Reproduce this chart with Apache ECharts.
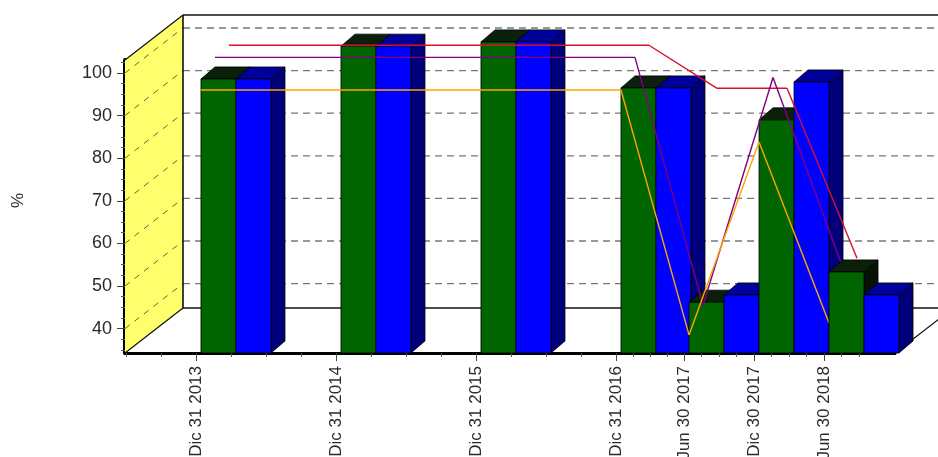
<!DOCTYPE html>
<html>
<head>
<meta charset="utf-8">
<style>
  html, body { margin: 0; padding: 0; background: #ffffff; overflow: hidden; }
  #main { width: 938px; height: 457px; }
</style>
<script src="https://cdn.jsdelivr.net/npm/echarts@6/dist/echarts.min.js"></script>
</head>
<body>
<div id="main"></div>
<script>
// 日期轴：以 Dic 31 2013 为 0，单位是年
var dateLabels = ['Dic 31 2013', 'Dic 31 2014', 'Dic 31 2015', 'Dic 31 2016', 'Jun 30 2017', 'Dic 30 2017', 'Jun 30 2018']
var datePositions = [0, 1, 2, 3, 3.486, 3.986, 4.486]
var xMinorTicks = [-0.5, -0.25, 0.25, 0.5, 0.75, 1.25, 1.5, 1.75, 2.25, 2.5, 2.75,
  3.124, 3.243, 3.365, 3.61, 3.736, 3.861, 4.111, 4.236, 4.361, 4.611, 4.736]

var yTicks = [40, 50, 60, 70, 80, 90, 100]
var yMinorTicks = [35, 37.5, 42.5, 45, 47.5, 52.5, 55, 57.5, 62.5, 65, 67.5, 72.5, 75, 77.5, 82.5, 85, 87.5, 92.5, 95, 97.5, 102.5]

var greenValues = [98.6, 106.3, 107.3, 96.5, 46.2, 89, 53.3]
var blueValues = [98.6, 106.3, 107.3, 96.5, 47.9, 97.9, 47.9]
var redValues = [100.5, 100.5, 100.5, 100.5, 90.4, 90.4, 50.5]
var purpleValues = [100.2, 100.2, 100.2, 100.2, 42, 95.5, 50.7]
var orangeValues = [95.1, 95.1, 95.1, 95.1, 37.6, 82.9, 40.4]

var Y_MIN = 34.27
var Y_MAX = 103.05
var X_MIN = -0.507
var X_MAX = 4.993
// 3D 墙的纵深
var WALL_DX = 58
var WALL_DY = -45
// 柱子的纵深、宽度、相对刻度的偏移
var BAR_DX = 14
var BAR_DY = -12
var BAR_W = 35
var BAR_SHIFT = 40

function poly(points, fill) {
  return { type: 'polygon', shape: { points: points }, style: { fill: fill, stroke: '#000000', lineWidth: 0.8 } }
}

function seg(x1, y1, x2, y2, color, width, dash) {
  return {
    type: 'line',
    shape: { x1: x1, y1: y1, x2: x2, y2: y2 },
    style: { stroke: color, lineWidth: width, lineDash: dash || null, fill: null }
  }
}

// 墙和地板
function renderWalls(params, api) {
  var lb = api.coord([X_MIN, Y_MIN])
  var lt = api.coord([X_MIN, Y_MAX])
  var rb = api.coord([X_MAX, Y_MIN])
  var rt = api.coord([X_MAX, Y_MAX])
  var children = [
    { type: 'polygon', shape: { points: [lb, lt, [lt[0] + WALL_DX, lt[1] + WALL_DY], [lb[0] + WALL_DX, lb[1] + WALL_DY]] }, style: { fill: '#ffff6e' } }
  ]
  yTicks.forEach(function(v) {
    var p = api.coord([X_MIN, v])
    var r = api.coord([X_MAX, v])
    children.push(seg(p[0] + WALL_DX, p[1] + WALL_DY, r[0] + WALL_DX, r[1] + WALL_DY, '#777777', 1.3, [7, 5]))
    children.push(seg(p[0], p[1], p[0] + WALL_DX, p[1] + WALL_DY, '#66663a', 1, [6, 6]))
  })
  children.push(seg(lb[0] + WALL_DX, lb[1] + WALL_DY, lt[0] + WALL_DX, lt[1] + WALL_DY, '#111111', 1.6))
  children.push(seg(lt[0] + WALL_DX, lt[1] + WALL_DY, rt[0] + WALL_DX, rt[1] + WALL_DY, '#111111', 1.6))
  children.push(seg(lb[0] + WALL_DX, lb[1] + WALL_DY, rb[0] + WALL_DX, rb[1] + WALL_DY, '#111111', 1.6))
  children.push(seg(lb[0], lb[1], lb[0] + WALL_DX, lb[1] + WALL_DY, '#111111', 1.2))
  children.push(seg(lt[0], lt[1], lt[0] + WALL_DX, lt[1] + WALL_DY, '#111111', 1.2))
  children.push(seg(rb[0], rb[1], rb[0] + WALL_DX, rb[1] + WALL_DY, '#111111', 1.2))
  return { type: 'group', children: children }
}

function oneBar(x0, value, api, front, top, side) {
  var x1 = x0 + BAR_W
  var y1 = api.coord([0, value])[1]
  var y0 = api.coord([0, Y_MIN])[1]
  return [
    poly([[x1, y0], [x1 + BAR_DX, y0 + BAR_DY], [x1 + BAR_DX, y1 + BAR_DY], [x1, y1]], side),
    poly([[x0, y1], [x0 + BAR_DX, y1 + BAR_DY], [x1 + BAR_DX, y1 + BAR_DY], [x1, y1]], top),
    poly([[x0, y0], [x1, y0], [x1, y1], [x0, y1]], front)
  ]
}

// 一组柱子：绿的在前先画，蓝的后画
function renderBars(params, api) {
  var center = api.coord([api.value(0), Y_MIN])[0] + BAR_SHIFT
  var green = oneBar(center - BAR_W, api.value(1), api, '#006400', '#0a200a', '#061206')
  var blue = oneBar(center, api.value(2), api, '#0000ff', '#00009c', '#00007a')
  return { type: 'group', children: green.concat(blue) }
}

// 折线每段单独画，整条线按纵深平移
function lineRenderer(values, depth, color) {
  return function(params, api) {
    var i = params.dataIndex
    if (i === 0) return null
    var a = api.coord([datePositions[i - 1], values[i - 1]])
    var b = api.coord([datePositions[i], values[i]])
    var dy = depth * WALL_DY / WALL_DX
    return seg(a[0] + depth, a[1] + dy, b[0] + depth, b[1] + dy, color, 1.4)
  }
}

var barRows = datePositions.map(function(x, i) {
  return [x, greenValues[i], blueValues[i]]
})

var chart = echarts.init(document.getElementById('main'))
var labelFont = { color: '#2a2a2a', fontFamily: 'Liberation Sans' }

chart.setOption({
  animation: false,
  backgroundColor: '#ffffff',
  grid: { left: 125, top: 60, width: 770, height: 293, containLabel: false, outerBoundsMode: 'none' },
  xAxis: [
    {
      type: 'value',
      min: X_MIN,
      max: X_MAX,
      position: 'bottom',
      splitLine: { show: false },
      axisLine: { show: true, onZero: false, lineStyle: { color: '#000000', width: 3 } },
      axisTick: { show: true, length: 8, customValues: datePositions, lineStyle: { color: '#444444' } },
      axisLabel: {
        show: true,
        customValues: datePositions,
        rotate: 90,
        margin: 13,
        color: labelFont.color,
        fontFamily: labelFont.fontFamily,
        fontSize: 17,
        formatter: function(v) {
          return dateLabels[datePositions.indexOf(v)]
        }
      }
    },
    {
      type: 'value',
      min: X_MIN,
      max: X_MAX,
      position: 'bottom',
      splitLine: { show: false },
      axisLine: { show: false, onZero: false },
      axisTick: { show: true, length: 4, customValues: xMinorTicks, lineStyle: { color: '#555555' } },
      axisLabel: { show: false }
    }
  ],
  yAxis: [
    {
      type: 'value',
      min: Y_MIN,
      max: Y_MAX,
      position: 'left',
      name: '%',
      nameLocation: 'middle',
      nameGap: 98,
      nameRotate: 90,
      nameTextStyle: { color: labelFont.color, fontFamily: labelFont.fontFamily, fontSize: 17, padding: [0, 0, 0, 12] },
      splitLine: { show: false },
      axisLine: { show: true, onZero: false, lineStyle: { color: '#000000', width: 4 } },
      axisTick: { show: true, length: 8, customValues: yTicks, lineStyle: { color: '#444444' } },
      axisLabel: { show: true, customValues: yTicks, margin: 13, color: labelFont.color, fontFamily: labelFont.fontFamily, fontSize: 18 }
    },
    {
      type: 'value',
      min: Y_MIN,
      max: Y_MAX,
      splitLine: { show: false },
      position: 'left',
      axisLine: { show: false, onZero: false },
      axisTick: { show: true, length: 4, customValues: yMinorTicks, lineStyle: { color: '#555555' } },
      axisLabel: { show: false }
    }
  ],
  series: [
    { type: 'custom', z: 1, clip: false, silent: true, renderItem: renderWalls, data: [[0, 0]], encode: { x: 0, y: 1 } },
    { type: 'custom', z: 2, clip: false, silent: true, renderItem: renderBars, data: barRows.slice(0, 6), encode: { x: 0, y: 1 } },
    { type: 'custom', z: 3, clip: false, silent: true, renderItem: lineRenderer(redValues, 33, '#d8102c'), data: redValues.map(function(v, i) { return [datePositions[i], v] }), encode: { x: 0, y: 1 } },
    { type: 'custom', z: 3, clip: false, silent: true, renderItem: lineRenderer(purpleValues, 19, '#800080'), data: purpleValues.map(function(v, i) { return [datePositions[i], v] }), encode: { x: 0, y: 1 } },
    { type: 'custom', z: 3, clip: false, silent: true, renderItem: lineRenderer(orangeValues, 5, '#ffa500'), data: orangeValues.map(function(v, i) { return [datePositions[i], v] }), encode: { x: 0, y: 1 } },
    { type: 'custom', z: 4, clip: false, silent: true, renderItem: renderBars, data: barRows.slice(6), encode: { x: 0, y: 1 } }
  ]
})
</script>
</body>
</html>
